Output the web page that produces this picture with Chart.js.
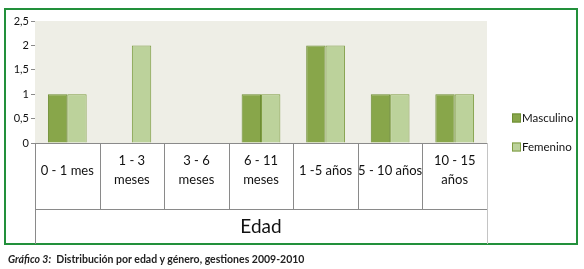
<!DOCTYPE html>
<html>
<head>
<meta charset="utf-8">
<script src="https://cdn.jsdelivr.net/npm/chart.js@4.4.0/dist/chart.umd.min.js"></script>
<style>
  html, body { margin: 0; padding: 0; background: #ffffff; width: 584px; height: 269px; overflow: hidden; }
  #frame { position: absolute; left: 4px; top: 8px; width: 574px; height: 237px; box-sizing: border-box; border: 2px solid #22903b; }
  #wrap { position: absolute; left: 0; top: 0; width: 584px; height: 269px; }
  #caption { position: absolute; left: 8px; top: 253px; font-family: Lato, "Liberation Sans", sans-serif; font-weight: bold; font-size: 10.5px; color: #222; white-space: nowrap; }
  #caption i { font-weight: bold; }
</style>
</head>
<body>
<div id="frame"></div>
<div id="wrap"><canvas id="c" width="584" height="269"></canvas></div>
<div id="caption"><i>Gráfico 3:</i>&nbsp; Distribución por edad y género, gestiones 2009-2010</div>
<script>
const categories = [["0 - 1 mes"], ["1 - 3", "meses"], ["3 - 6", "meses"], ["6 - 11", "meses"], ["1 -5 años"], ["5 - 10 años"], ["10 - 15", "años"]];
const masculino = [1, 0, 0, 1, 2, 1, 1];
const femenino = [1, 2, 0, 1, 2, 1, 1];
const seriesNames = ["Masculino", "Femenino"];
const yTickLabels = ["0", "0,5", "1", "1,5", "2", "2,5"];
const axisTitle = "Edad";

const LEFT = 35, TOP = 21, RIGHT = 487, BOTTOM = 143, TABLE_BOTTOM = 244;

const tablePlugin = {
  id: 'tablePlugin',
  beforeDatasetsDraw(chart) {
    const {ctx, chartArea} = chart;
    ctx.save();
    ctx.fillStyle = '#eeeee6';
    ctx.fillRect(chartArea.left, chartArea.top, chartArea.right - chartArea.left, chartArea.bottom - chartArea.top);
    ctx.restore();
  },
  afterDraw(chart) {
    const {ctx, chartArea, scales} = chart;
    const x = scales.x;
    const n = chart.data.labels.length;
    const bottom = x.bottom;
    const midY = chartArea.bottom + 66;
    ctx.save();
    ctx.lineWidth = 1;
    ctx.strokeStyle = '#8a8a8a';
    ctx.beginPath();
    ctx.moveTo(chartArea.left, Math.round(chartArea.bottom) + 0.5);
    ctx.lineTo(chartArea.right, Math.round(chartArea.bottom) + 0.5);
    ctx.stroke();
    ctx.beginPath();
    ctx.moveTo(chartArea.left, Math.round(midY) + 0.5);
    ctx.lineTo(chartArea.right, Math.round(midY) + 0.5);
    ctx.stroke();
    for (let i = 0; i <= n; i++) {
      let px;
      if (i === 0) px = chartArea.left;
      else if (i === n) px = chartArea.right;
      else px = (x.getPixelForValue(i - 1) + x.getPixelForValue(i)) / 2;
      px = Math.round(px) + 0.5;
      ctx.strokeStyle = (i === n) ? '#c4c4c4' : '#8a8a8a';
      ctx.beginPath();
      ctx.moveTo(px, chartArea.bottom);
      ctx.lineTo(px, (i === 0 || i === n) ? bottom : midY);
      ctx.stroke();
    }
    const ds = chart.data.datasets;
    const legendY = [118, 147];
    ctx.font = '11.5px Lato, "Liberation Sans", sans-serif';
    ctx.textBaseline = 'middle';
    ctx.textAlign = 'left';
    ds.forEach((d, i) => {
      const y = legendY[i];
      ctx.fillStyle = d.backgroundColor;
      ctx.fillRect(512, y - 4.5, 9, 9);
      ctx.strokeStyle = d.borderColor;
      ctx.strokeRect(512.5, y - 4, 8, 8);
      ctx.fillStyle = '#111';
      ctx.fillText(d.label, 522, y);
    });
    ctx.restore();
  }
};

new Chart(document.getElementById('c'), {
  type: 'bar',
  data: {
    labels: categories,
    datasets: [
      { label: seriesNames[0], data: masculino, backgroundColor: '#88a64a', borderColor: '#6d8d33', borderWidth: 1, categoryPercentage: 0.6, barPercentage: 1.0 },
      { label: seriesNames[1], data: femenino, backgroundColor: '#bcd29b', borderColor: '#7e9c42', borderWidth: 1, categoryPercentage: 0.6, barPercentage: 1.0 }
    ]
  },
  options: {
    responsive: false,
    animation: false,
    devicePixelRatio: 1,
    layout: { padding: { left: 0, top: TOP, right: 584 - RIGHT, bottom: 269 - TABLE_BOTTOM } },
    plugins: { legend: { display: false }, tooltip: { enabled: false } },
    scales: {
      x: {
        grid: { display: false },
        border: { display: false },
        ticks: {
          color: '#111',
          font: { family: 'Lato, "Liberation Sans", sans-serif', size: 13, lineHeight: 1.45 },
          padding: 10,
          crossAlign: 'center',
          maxRotation: 0,
          autoSkip: false
        },
        title: {
          display: true,
          text: axisTitle,
          color: '#111',
          font: { family: 'Lato, "Liberation Sans", sans-serif', size: 19, lineHeight: 1.2 },
          padding: { top: 0, bottom: 6 }
        },
        afterFit(scale) { scale.height = TABLE_BOTTOM - BOTTOM; }
      },
      y: {
        min: 0,
        max: 2.5,
        grid: { color: '#8a8a8a', tickLength: 4, drawTicks: true },
        border: { display: false },
        ticks: {
          stepSize: 0.5,
          color: '#111',
          padding: 2,
          font: { family: 'Lato, "Liberation Sans", sans-serif', size: 11 },
          callback: (v, i) => yTickLabels[i]
        },
        afterFit(scale) { scale.width = LEFT; }
      }
    }
  },
  plugins: [tablePlugin]
});
</script>
</body>
</html>
